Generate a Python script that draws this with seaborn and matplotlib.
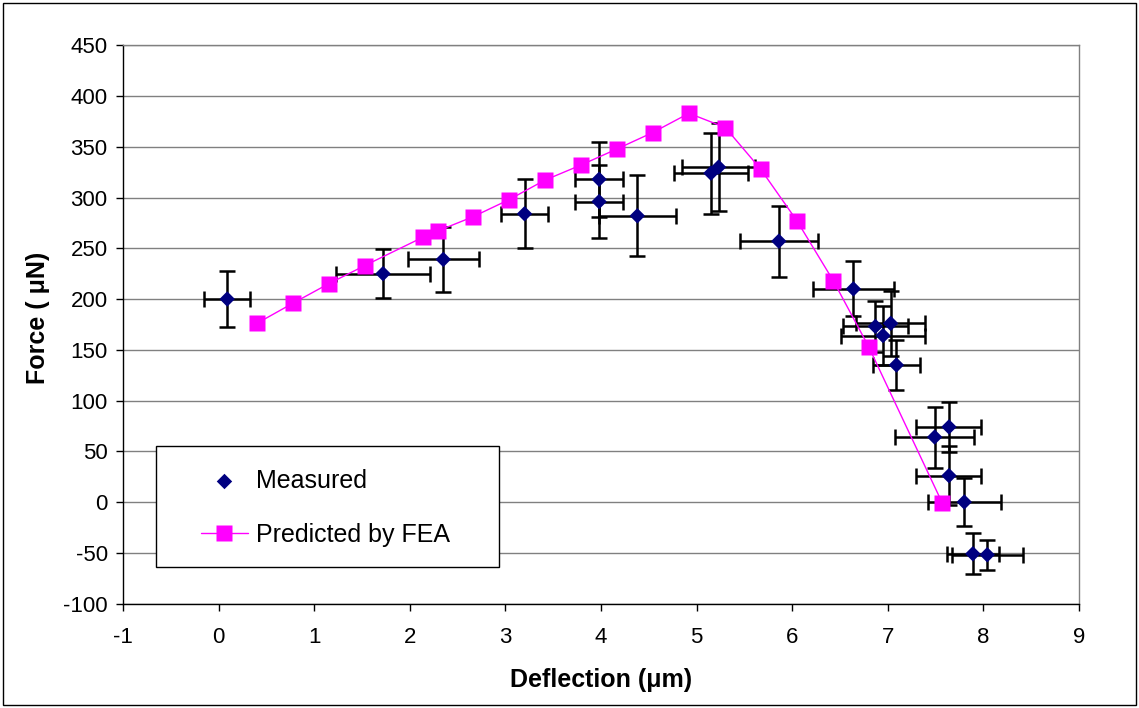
import matplotlib
matplotlib.use("Agg")
import matplotlib.pyplot as plt
from matplotlib.patches import Rectangle
import seaborn as sns

# Measured force / deflection with error bars
meas_x = [0.09, 1.72, 2.35, 3.20, 3.98, 3.98, 4.38, 5.15, 5.23, 5.86, 6.64,
          6.87, 7.03, 6.95, 7.09, 7.64, 7.49, 7.64, 7.80, 7.89, 8.04]
meas_y = [200, 225, 239, 284, 318, 296, 282, 324, 330, 257, 210,
          173, 176, 164, 135, 74, 64, 26, 0, -51, -52]
meas_xerr = [0.24, 0.49, 0.37, 0.25, 0.25, 0.25, 0.40, 0.39, 0.38, 0.41, 0.42,
             0.34, 0.36, 0.44, 0.25, 0.34, 0.41, 0.34, 0.38, 0.27, 0.37]
meas_yerr = [28, 24, 32, 34, 37, 36, 40, 40, 43, 35, 27,
             25, 32, 29, 25, 25, 30, 29, 24, 20, 15]

# FEA prediction
fea_x = [0.40, 0.78, 1.15, 1.53, 2.14, 2.29, 2.66, 3.04, 3.41, 3.79, 4.17,
         4.54, 4.92, 5.30, 5.67, 6.05, 6.43, 6.80, 7.57]
fea_y = [176, 196, 215, 233, 261, 267, 281, 298, 317, 332, 348,
         364, 383, 369, 328, 277, 218, 153, -1]

x_ticks = list(range(-1, 10))
y_ticks = list(range(-100, 451, 50))

sns.set_theme(style="white")
plt.rcParams['font.family'] = ['Liberation Sans', 'DejaVu Sans']
plt.rcParams['axes.unicode_minus'] = False
for key in ['text.color', 'axes.labelcolor', 'xtick.color', 'ytick.color']:
    plt.rcParams[key] = 'black'

W, H = 1139, 708
fig = plt.figure(figsize=(W / 100, H / 100), dpi=100)
ax = fig.add_axes([123 / W, 1 - 603.5 / H, 956 / W, 558.2 / H])

ax.errorbar(meas_x, meas_y, xerr=meas_xerr, yerr=meas_yerr, fmt='none',
            ecolor='black', elinewidth=1.8, capsize=5.5, capthick=1.8, zorder=3)
sns.scatterplot(x=meas_x, y=meas_y, marker='D', color='#000080', s=62,
                edgecolor='none', ax=ax, zorder=4, label='Measured')
sns.lineplot(x=fea_x, y=fea_y, sort=False, color='#FF00FF', lw=1, marker='s',
             markersize=11.5, markeredgecolor='none', ax=ax, zorder=5,
             label='Predicted by FEA')

ax.set_xlim(-1, 9)
ax.set_ylim(-100, 450)
ax.set_xticks(x_ticks)
ax.set_yticks(y_ticks)
ax.yaxis.grid(True, color='#808080', lw=1)
ax.xaxis.grid(False)
ax.set_axisbelow(True)

for side in ['left', 'bottom']:
    ax.spines[side].set_color('black')
    ax.spines[side].set_linewidth(1)
for side in ['top', 'right']:
    ax.spines[side].set_color('#808080')
    ax.spines[side].set_linewidth(1)

ax.tick_params(axis='both', direction='out', length=5, width=1, color='black',
               labelsize=16, bottom=True, left=True)
ax.tick_params(axis='x', pad=12)
ax.tick_params(axis='y', pad=6)

ax.set_xlabel('Deflection (μm)', fontsize=18, fontweight='bold')
ax.set_ylabel('Force ( μN)', fontsize=18, fontweight='bold')
ax.xaxis.label.set_va('center')
ax.yaxis.label.set_va('center')
ax.xaxis.set_label_coords(0.5, -0.137)
ax.yaxis.set_label_coords(-0.089, 0.511)

# legend box
ax.add_patch(Rectangle((0.0342, 0.0654), 0.359, 0.217, transform=ax.transAxes,
                       facecolor='white', edgecolor='black', lw=1, zorder=6))
leg = ax.legend(loc='center left', bbox_to_anchor=(0.0813, 0.171), frameon=False,
                fontsize=18, handlelength=1.9, handletextpad=0.3,
                labelspacing=1.2, borderpad=0, borderaxespad=0)
leg.set_zorder(7)

fig.add_artist(Rectangle((3 / W, 3 / H), (W - 6) / W, (H - 6) / H,
                         transform=fig.transFigure, fill=False,
                         edgecolor='black', lw=1))

fig.savefig('out.png', dpi=100)
